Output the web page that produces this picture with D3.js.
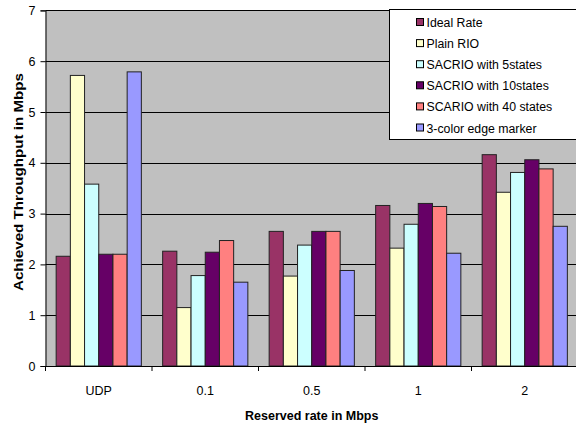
<!DOCTYPE html>
<html>
<head>
<meta charset="utf-8">
<script src="https://cdn.jsdelivr.net/npm/d3@7"></script>
<style>
  html, body { margin: 0; padding: 0; background: #fff; }
  svg { display: block; font-family: "Liberation Sans", Arial, sans-serif; }
</style>
</head>
<body>
<svg id="chart" width="576" height="428"></svg>
<script>
// Reserved-rate categories along the x axis
const categories = ["UDP", "0.1", "0.5", "1", "2"];

// Series names, as listed in the legend
const seriesNames = [
  "Ideal Rate",
  "Plain RIO",
  "SACRIO with 5states",
  "SACRIO with 10states",
  "SCARIO with 40 states",
  "3-color edge marker"
];

// Achieved throughput (Mbps) per series, one value per category
const idealRate   = [2.16, 2.26, 2.65, 3.16, 4.16];
const plainRio    = [5.72, 1.15, 1.77, 2.32, 3.42];
const sacrio5     = [3.58, 1.78, 2.38, 2.79, 3.81];
const sacrio10    = [2.20, 2.24, 2.65, 3.20, 4.06];
const scario40    = [2.20, 2.47, 2.65, 3.14, 3.88];
const threeColor  = [5.79, 1.65, 1.88, 2.22, 2.75];

const seriesValues = [idealRate, plainRio, sacrio5, sacrio10, scario40, threeColor];
const seriesColors = ["#993366", "#FFFFCC", "#CCFFFF", "#660066", "#FF8080", "#9999FF"];

const yTicks = [0, 1, 2, 3, 4, 5, 6, 7];

const svg = d3.select("#chart");
const plot = { left: 45.5, right: 578, top: 10.4, bottom: 366 };

const x0 = d3.scaleBand()
  .domain(categories)
  .range([plot.left, plot.right])
  .paddingInner(0)
  .paddingOuter(0);

// Excel-style gap: 150% of a bar width shared between groups
const barW = x0.bandwidth() / (seriesNames.length + 1.5);
const x1 = d3.scaleBand()
  .domain(d3.range(seriesNames.length))
  .range([0, barW * seriesNames.length]);
const groupOffset = barW * 0.75;

const y = d3.scaleLinear().domain([0, 7]).range([plot.bottom, plot.top]);

// Plot area background
svg.append("rect")
  .attr("x", plot.left).attr("y", plot.top)
  .attr("width", plot.right - plot.left).attr("height", plot.bottom - plot.top)
  .attr("fill", "#C0C0C0");

// Horizontal gridlines
svg.append("g")
  .selectAll("line")
  .data(yTicks.filter(d => d > 0))
  .join("line")
  .attr("x1", plot.left).attr("x2", plot.right)
  .attr("y1", d => Math.round(y(d)) + 0.5).attr("y2", d => Math.round(y(d)) + 0.5)
  .attr("stroke", "#000").attr("stroke-width", 1);

// Bars
const groups = svg.append("g")
  .selectAll("g")
  .data(categories)
  .join("g")
  .attr("transform", c => `translate(${x0(c) + groupOffset},0)`);

groups.selectAll("rect")
  .data((c, ci) => seriesValues.map((vals, si) => ({ si, v: vals[ci] })))
  .join("rect")
  .attr("x", d => x1(d.si))
  .attr("y", d => y(d.v))
  .attr("width", x1.bandwidth())
  .attr("height", d => y(0) - y(d.v))
  .attr("fill", d => seriesColors[d.si])
  .attr("stroke", "#222")
  .attr("stroke-width", 1);

// Y axis
const yAxis = d3.axisLeft(y)
  .tickValues(yTicks)
  .tickFormat(d3.format("d"))
  .tickSize(5)
  .tickPadding(5);
const gy = svg.append("g")
  .attr("transform", `translate(${plot.left},0)`)
  .call(yAxis);
gy.select(".domain").attr("stroke", "#000");
gy.selectAll(".tick line").attr("stroke", "#000");
gy.selectAll("text").attr("font-size", 12.5).attr("fill", "#000")
  .attr("font-family", "Liberation Sans, Arial, sans-serif");

// X axis: ticks on category boundaries, labels centred under groups
const gx = svg.append("g")
  .attr("transform", `translate(0,${plot.bottom})`);
gx.append("line")
  .attr("x1", plot.left).attr("x2", plot.right)
  .attr("y1", 0.5).attr("y2", 0.5)
  .attr("stroke", "#000");
gx.selectAll("line.tick")
  .data(categories.map(c => x0(c)).concat([plot.right]))
  .join("line")
  .attr("class", "tick")
  .attr("x1", d => d).attr("x2", d => d)
  .attr("y1", 0).attr("y2", 5)
  .attr("stroke", "#000");
gx.selectAll("text")
  .data(categories)
  .join("text")
  .attr("x", c => x0(c) + x0.bandwidth() / 2)
  .attr("y", 28.5)
  .attr("text-anchor", "middle")
  .attr("font-size", 12.5)
  .text(c => c);

// Axis titles
svg.append("text")
  .attr("x", (plot.left + plot.right) / 2)
  .attr("y", 420)
  .attr("text-anchor", "middle")
  .attr("font-size", 12.5)
  .attr("font-weight", "bold")
  .text("Reserved rate in Mbps");

svg.append("text")
  .attr("transform", "translate(23,182) rotate(-90)")
  .attr("text-anchor", "middle")
  .attr("font-size", 13)
  .attr("font-weight", "bold")
  .attr("textLength", 218)
  .attr("lengthAdjust", "spacingAndGlyphs")
  .text("Achieved Throughput in Mbps");

// Legend
const legend = svg.append("g").attr("transform", "translate(389.5,9.5)");
legend.append("rect")
  .attr("width", 200).attr("height", 130)
  .attr("fill", "#fff").attr("stroke", "#000");
const items = legend.selectAll("g.item")
  .data(seriesNames)
  .join("g")
  .attr("class", "item")
  .attr("transform", (d, i) => `translate(27,${13 + i * 21.1})`);
items.append("rect")
  .attr("x", 0).attr("y", -4)
  .attr("width", 7).attr("height", 7)
  .attr("fill", (d, i) => seriesColors[i])
  .attr("stroke", "#000");
items.append("text")
  .attr("x", 10).attr("y", 4.5)
  .attr("font-size", 12.3)
  .text(d => d);
</script>
</body>
</html>
